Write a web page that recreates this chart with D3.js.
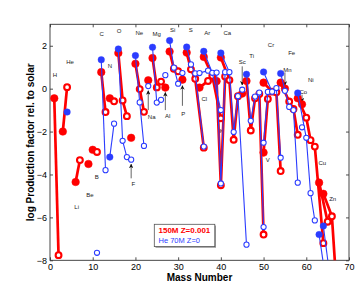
<!DOCTYPE html>
<html>
<head>
<meta charset="utf-8">
<script src="https://cdn.jsdelivr.net/npm/d3@7"></script>
<style>
  html, body { margin: 0; padding: 0; background: #fff; }
  svg { display: block; }
</style>
</head>
<body>
<svg id="chart"></svg>
<script>
// ─── data: isotopes [mass number, log production factor], grouped by element ───
const RED_150M = [
  { el: 'H',  iso: [[1, -0.45], [2, -7.76]] },
  { el: 'He', iso: [[3, -2.0], [4, 0.07]] },
  { el: 'Li', iso: [[6, -4.35], [7, -3.33]] },
  { el: 'Be', iso: [[9, -3.51]] },
  { el: 'B',  iso: [[10, -2.85], [11, -2.95]] },
  { el: 'C',  iso: [[12, 0.77], [13, -1.09]] },
  { el: 'N',  iso: [[14, -0.45], [15, -0.59]] },
  { el: 'O',  iso: [[16, 1.66], [17, -0.55], [18, -1.28]] },
  { el: 'F',  iso: [[19, -2.29]] },
  { el: 'Ne', iso: [[20, 1.16], [21, -0.02], [22, -1.08]] },
  { el: 'Na', iso: [[23, 0.39]] },
  { el: 'Mg', iso: [[24, 1.43], [25, 0.06], [26, 0.33]] },
  { el: 'Al', iso: [[27, 0.05]] },
  { el: 'Si', iso: [[28, 1.73], [29, 0.93], [30, 0.81]] },
  { el: 'P',  iso: [[31, 0.42]] },
  { el: 'S',  iso: [[32, 1.68], [33, 0.90], [34, 0.46], [36, -2.75]] },
  { el: 'Cl', iso: [[35, 0.05], [37, 0.36]] },
  { el: 'Ar', iso: [[36, 1.48], [38, 0.6], [40, -1.38]] },
  { el: 'K',  iso: [[39, 0.35], [40, -4.5], [41, 0.57]] },
  { el: 'Ca', iso: [[40, 1.45], [42, 0.4], [43, -2.38], [44, -0.35]] },
  { el: 'Sc', iso: [[45, -0.23]] },
  { el: 'Ti', iso: [[46, 0.36], [47, -1.95], [48, -0.45], [49, -0.25], [50, -6.8]] },
  { el: 'V',  iso: [[50, -2.98], [51, -0.48]] },
  { el: 'Cr', iso: [[50, 0.28], [52, -0.14], [53, -0.17], [54, -3.84]] },
  { el: 'Mn', iso: [[55, 0.0]] },
  { el: 'Fe', iso: [[54, 0.28], [56, -0.6], [57, -0.95], [58, -2.15]] },
  { el: 'Co', iso: [[59, -0.73]] },
  { el: 'Ni', iso: [[58, -0.45], [60, -1.35], [61, -2.4], [62, -2.7], [64, -7.2]] },
  { el: 'Cu', iso: [[63, -4.38], [65, -6.2]] },
  { el: 'Zn', iso: [[64, -4.9], [66, -5.95], [67, -9.0]] },
]

const BLUE_HE70M = [
  { el: 'He', iso: [[4, -1.09]] },
  { el: 'B',  iso: [[11, -7.65]] },
  { el: 'C',  iso: [[12, 1.35], [13, -3.8]] },
  { el: 'N',  iso: [[14, -3.19], [15, -1.63]] },
  { el: 'O',  iso: [[16, 1.85], [17, -2.43], [18, -3.19]] },
  { el: 'F',  iso: [[19, -3.31]] },
  { el: 'Ne', iso: [[20, 1.54], [21, -0.64], [22, -2.67]] },
  { el: 'Na', iso: [[23, 0.12]] },
  { el: 'Mg', iso: [[24, 1.93], [25, -0.65], [26, -0.52]] },
  { el: 'Al', iso: [[27, 0.63]] },
  { el: 'Si', iso: [[28, 2.24], [29, 0.98], [30, 0.23]] },
  { el: 'P',  iso: [[31, 0.73]] },
  { el: 'S',  iso: [[32, 1.94], [33, 1.13], [34, 0.71], [36, -2.7]] },
  { el: 'Cl', iso: [[35, 0.73], [37, 0.84]] },
  { el: 'Ar', iso: [[36, 1.74], [38, 0.74], [40, -1.0]] },
  { el: 'K',  iso: [[39, 0.75], [40, -4.42], [41, 0.77]] },
  { el: 'Ca', iso: [[40, 1.66], [42, 0.77], [43, -2.02], [44, -0.35], [46, -7.27]] },
  { el: 'Sc', iso: [[45, -0.05]] },
  { el: 'Ti', iso: [[46, 0.67], [47, -1.5], [48, -0.37], [49, -0.18], [50, -6.45]] },
  { el: 'V',  iso: [[50, -2.52], [51, -0.15]] },
  { el: 'Cr', iso: [[50, 0.78], [52, -0.14], [53, 0.03], [54, -3.22]] },
  { el: 'Mn', iso: [[55, -0.1]] },
  { el: 'Fe', iso: [[54, 0.71], [56, -0.85], [57, -1.0], [58, -4.38]] },
  { el: 'Co', iso: [[59, -1.8]] },
  { el: 'Ni', iso: [[58, -0.2], [60, -2.29], [61, -4.87], [62, -6.14]] },
  { el: 'Cu', iso: [[63, -6.8], [65, -9.5]] },
  { el: 'Zn', iso: [[64, -6.4], [66, -9.5]] },
]

// elements whose blue symbols are all hollow
const BLUE_OPEN = ['B', 'F', 'Na', 'Al', 'P', 'Cl', 'K', 'Sc', 'V', 'Mn', 'Co']

// element name labels [name, mass number, value]
const ELEMENT_LABELS = [
  ['H', 1.17, 0.62], ['He', 4.68, 1.23], ['Li', 6.25, -5.52], ['Be', 9.37, -4.97],
  ['B', 10.93, -4.12], ['C', 12.1, 2.56], ['N', 14.05, 1.05], ['O', 16.15, 2.69],
  ['F', 19.5, -4.46], ['Ne', 20.9, 2.59], ['Na', 23.81, -1.32], ['Mg', 24.98, 2.56],
  ['Al', 27.56, -1.28], ['Si', 28.73, 2.75], ['P', 31.21, -1.17], ['S', 32.94, 2.75],
  ['Cl', 36.13, -0.5], ['Ar', 36.83, 2.62], ['K', 40.2, -1.98], ['Ca', 41.51, 2.62],
  ['Sc', 45.02, 1.24], ['Ti', 47.23, 1.55], ['V', 50.97, -3.3], ['Cr', 51.74, 2.02],
  ['Mn', 55.56, 0.89], ['Fe', 56.59, 1.66], ['Co', 59.31, -0.13], ['Ni', 61.04, 0.42],
  ['Cu', 63.76, -3.47], ['Zn', 66.19, -5.13],
]

// arrows [mass number, tail value, head value]
const ARROWS = [
  [19, -4.18, -3.52], [23, -1.0, -0.1], [27, -1.0, -0.18], [31, -0.8, 0.14],
  [45, 1.04, 0.17], [55, 0.76, 0.16], [59, -0.28, -0.62],
]

const X_TICKS = [0, 10, 20, 30, 40, 50, 60, 70]
const Y_TICKS = [-8, -6, -4, -2, 0, 2]

const SERIES_NAMES = ['150M Z=0.001', 'He 70M Z=0']

// ─── layout ───
const width = 357, height = 286
const margin = { top: 24.3, right: 8, bottom: 25.7, left: 50 }
const RED = '#ff0000'
const BLUE = '#2b3cff'
const FONT = "'Liberation Sans', Arial, Helvetica, sans-serif"

const svg = d3.select('#chart').attr('width', width).attr('height', height)

const x = d3.scaleLinear().domain([0, 70]).range([margin.left, width - margin.right])
const y = d3.scaleLinear().domain([-8, 3]).range([height - margin.bottom, margin.top])

svg.append('defs').append('clipPath').attr('id', 'plot-clip')
  .append('rect')
  .attr('x', margin.left).attr('y', margin.top)
  .attr('width', x(70) - x(0)).attr('height', y(-8) - y(3))

svg.append('defs').append('marker')
  .attr('id', 'arrowhead')
  .attr('viewBox', '0 0 10 10')
  .attr('refX', 9).attr('refY', 5)
  .attr('markerWidth', 4.5).attr('markerHeight', 4.5)
  .attr('markerUnits', 'userSpaceOnUse')
  .attr('orient', 'auto')
  .append('path').attr('d', 'M0,0 L10,5 L0,10 L3,5 Z').attr('fill', '#111')

// ─── axes (ticks inward on all four sides) ───
function styleAxis(g) {
  g.select('.domain').remove()
  g.selectAll('.tick line').attr('stroke', '#222').attr('stroke-width', 0.8)
  g.selectAll('.tick text').attr('font-size', '9px').attr('font-family', FONT).attr('fill', '#000')
}

svg.append('g')
  .attr('transform', `translate(0,${y(-8)})`)
  .call(d3.axisBottom(x).tickValues(X_TICKS).tickSize(-3).tickPadding(3.5))
  .call(styleAxis)

svg.append('g')
  .attr('transform', `translate(0,${y(3)})`)
  .call(d3.axisTop(x).tickValues(X_TICKS).tickSize(-3).tickFormat(''))
  .call(styleAxis)

svg.append('g')
  .attr('transform', `translate(${x(0)},0)`)
  .call(d3.axisLeft(y).tickValues(Y_TICKS).tickSize(-3).tickPadding(3))
  .call(styleAxis)

svg.append('g')
  .attr('transform', `translate(${x(70)},0)`)
  .call(d3.axisRight(y).tickValues(Y_TICKS).tickSize(-3).tickFormat(''))
  .call(styleAxis)

svg.append('rect')
  .attr('x', x(0)).attr('y', y(3))
  .attr('width', x(70) - x(0)).attr('height', y(-8) - y(3))
  .attr('fill', 'none').attr('stroke', '#333').attr('stroke-width', 0.9)

// axis titles
svg.append('text')
  .attr('x', (x(0) + x(70)) / 2).attr('y', 280.5)
  .attr('text-anchor', 'middle')
  .attr('font-size', '10px').attr('font-weight', 'bold').attr('font-family', FONT)
  .text('Mass Number')

svg.append('text')
  .attr('transform', `translate(34,${(y(3) + y(-8)) / 2}) rotate(-90)`)
  .attr('text-anchor', 'middle')
  .attr('font-size', '10px').attr('font-weight', 'bold').attr('font-family', FONT)
  .text('log Production factor rel. to solar')

// ─── element labels and arrows ───
const annot = svg.append('g')
annot.selectAll('text')
  .data(ELEMENT_LABELS)
  .join('text')
  .attr('x', d => x(d[1])).attr('y', d => y(d[2]))
  .attr('dy', '0.35em')
  .attr('text-anchor', 'middle')
  .attr('font-size', '6px').attr('font-family', FONT).attr('fill', '#222')
  .text(d => d[0])

annot.selectAll('line')
  .data(ARROWS)
  .join('line')
  .attr('x1', d => x(d[0])).attr('y1', d => y(d[1]))
  .attr('x2', d => x(d[0])).attr('y2', d => y(d[2]))
  .attr('stroke', '#222').attr('stroke-width', 0.7)
  .attr('marker-end', 'url(#arrowhead)')

// ─── data series ───
const plot = svg.append('g').attr('clip-path', 'url(#plot-clip)')
const line = d3.line().x(d => x(d[0])).y(d => y(d[1]))

function drawSeries(data, color, lw, isRed) {
  const g = plot.append('g')
  g.selectAll('path')
    .data(data.filter(d => d.iso.length > 1))
    .join('path')
    .attr('d', d => line(d.iso))
    .attr('fill', 'none')
    .attr('stroke', color)
    .attr('stroke-width', lw)
    .attr('stroke-linejoin', 'round')

  const pts = data.flatMap(d => d.iso.map((p, i) => ({
    a: p[0], v: p[1],
    filled: i === 0 && (isRed || !BLUE_OPEN.includes(d.el)),
  })))

  g.selectAll('circle')
    .data(pts)
    .join('circle')
    .attr('cx', d => x(d.a)).attr('cy', d => y(d.v))
    .attr('r', d => isRed ? (d.filled ? 3.8 : 2.9) : (d.filled ? 3.3 : 2.6))
    .attr('fill', d => d.filled ? color : '#fff')
    .attr('stroke', color)
    .attr('stroke-width', d => isRed ? (d.filled ? 0.5 : 2.1) : (d.filled ? 0.4 : 1.05))
}

drawSeries(RED_150M, RED, 2.7, true)
drawSeries(BLUE_HE70M, BLUE, 1.1, false)

// ─── legend ───
const legend = svg.append('g')
legend.append('rect')
  .attr('x', 155.5).attr('y', 225.5).attr('width', 60.5).attr('height', 22.3)
  .attr('fill', '#999')
legend.append('rect')
  .attr('x', 154.3).attr('y', 224.3).attr('width', 60.5).attr('height', 22.3)
  .attr('fill', '#fff').attr('stroke', '#555').attr('stroke-width', 0.8)

legend.append('text')
  .attr('x', 158.5).attr('y', 233)
  .attr('font-size', '8px').attr('font-weight', 'bold').attr('font-family', FONT)
  .attr('fill', RED)
  .text(SERIES_NAMES[0])
legend.append('text')
  .attr('x', 158.5).attr('y', 243.3)
  .attr('font-size', '7.5px').attr('font-family', FONT)
  .attr('fill', BLUE)
  .text(SERIES_NAMES[1])
</script>
</body>
</html>
